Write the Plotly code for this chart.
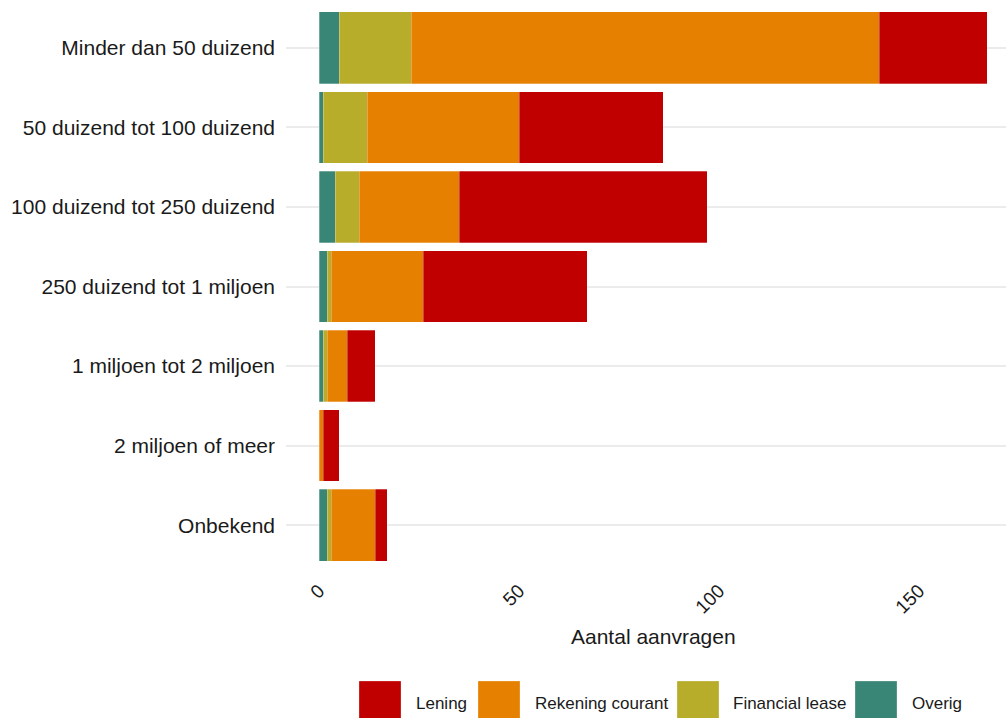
import plotly.graph_objects as go

categories = [
    "Minder dan 50 duizend",
    "50 duizend tot 100 duizend",
    "100 duizend tot 250 duizend",
    "250 duizend tot 1 miljoen",
    "1 miljoen tot 2 miljoen",
    "2 miljoen of meer",
    "Onbekend",
]
overig = [5, 1, 4, 2, 1, 0, 2]
financial_lease = [18, 11, 6, 1, 1, 0, 1]
rekening_courant = [117, 38, 25, 23, 5, 1, 11]
lening = [27, 36, 62, 41, 7, 4, 3]

x_ticks = [0, 50, 100, 150]

series = [
    ("Overig", overig, "#3A8676"),
    ("Financial lease", financial_lease, "#B8AC2B"),
    ("Rekening courant", rekening_courant, "#E68000"),
    ("Lening", lening, "#C00000"),
]
colors = {n: c for n, _, c in series}

fig = go.Figure()
for name, vals, col in series:
    fig.add_trace(go.Bar(
        y=categories, x=vals, name=name, orientation="h",
        marker=dict(color=col, line=dict(color="rgba(255,255,255,0.35)", width=0.8)),
        width=0.9, showlegend=False,
    ))

# plot area in pixels
L, R, T, B = 286, 1006, 0, 573
W, H = 1006, 718
pw, ph = R - L, B - T

def px(x):
    return (x - L) / pw

def py(y):
    return (B - y) / ph

# manual legend
legend_items = [
    ("Lening", 359, 414),
    ("Rekening courant", 478, 533),
    ("Financial lease", 677, 731),
    ("Overig", 855, 910),
]
shapes = []
annotations = []
for name, sx, tx in legend_items:
    shapes.append(dict(type="rect", xref="paper", yref="paper",
                       x0=px(sx), x1=px(sx + 42), y0=py(681), y1=py(722),
                       fillcolor=colors[name], line=dict(width=0.8, color="rgba(255,255,255,0.35)"),
                       layer="above"))
    annotations.append(dict(xref="paper", yref="paper", x=px(tx), y=py(703),
                            text=name, showarrow=False, xanchor="left", yanchor="middle",
                            font=dict(size=17, color="#1a1a1a", family="Liberation Sans, Arial")))

# x-axis title
annotations.append(dict(xref="paper", yref="paper", x=px(653), y=py(636),
                        text="Aantal aanvragen", showarrow=False, xanchor="center", yanchor="middle",
                        font=dict(size=21, color="#1a1a1a", family="Liberation Sans, Arial")))

fig.update_layout(
    barmode="stack",
    width=W, height=H,
    margin=dict(l=L, r=W - R, t=T, b=H - B, pad=0),
    plot_bgcolor="white", paper_bgcolor="white",
    font=dict(family="Liberation Sans, Arial", color="#1a1a1a"),
    xaxis=dict(
        range=[-(319 - L) / 4.0, (R - 319) / 4.0],
        tickvals=x_ticks, ticktext=[str(v) for v in x_ticks],
        tickangle=-45, showgrid=False, zeroline=False,
        tickfont=dict(size=19, color="#1a1a1a"),
        ticklabelstandoff=2,
    ),
    yaxis=dict(
        categoryorder="array", categoryarray=categories,
        range=[6.6, -0.6],
        showgrid=True, gridcolor="#EBEBEB", gridwidth=2,
        tickfont=dict(size=21, color="#1a1a1a"),
        ticklabelstandoff=10, zeroline=False,
    ),
    shapes=shapes,
    annotations=annotations,
)

fig.write_html("out.html", config={"displayModeBar": False},
               post_script="document.body.style.margin='0px';document.body.style.overflow='hidden';")
